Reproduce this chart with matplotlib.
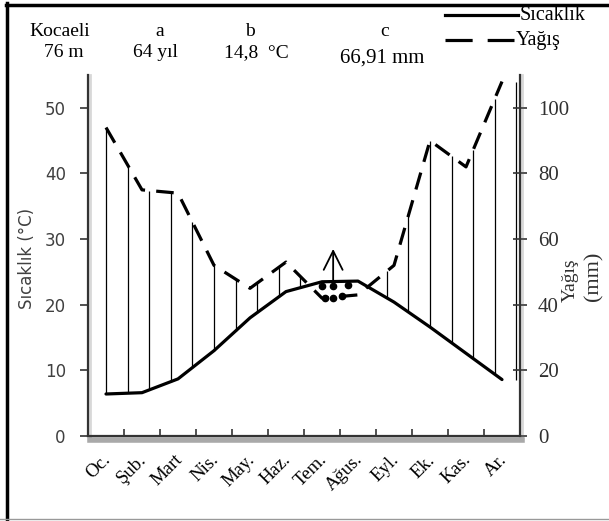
import numpy as np
import matplotlib
matplotlib.use("Agg")
import matplotlib.pyplot as plt
from matplotlib import patheffects as pe
from matplotlib import transforms as mtrans
from matplotlib.lines import Line2D

# climate diagram data (Walter-Lieth style), Kocaeli
months = ["Oc.", "Şub.", "Mart", "Nis.", "May.", "Haz.",
          "Tem.", "Ağus.", "Eyl.", "Ek.", "Kas.", "Ar."]
temp_c = [6.4, 6.6, 8.7, 13.0, 18.0, 22.0, 23.5, 23.6, 20.4, 16.6, 12.6, 8.6]
precip_mm = [94, 75, 74, 52, 45, 53, 42, 43, 52, 90, 82, 108]
header_top = ["Kocaeli", "a", "b", "c"]
header_bottom = ["76 m", "64 yıl", "14,8  °C", "66,91 mm"]
temp_ticks = [0, 10, 20, 30, 40, 50]
precip_ticks = [0, 20, 40, 60, 80, 100]

SERIF = "Liberation Serif"
SANS = "DejaVu Sans"
INK = "#333333"
plt.rcParams["font.family"] = SANS

W, H = 609, 521
fig = plt.figure(figsize=(W / 100, H / 100), dpi=100)
ax = fig.add_axes([88 / W, 1 - 436 / H, 432 / W, 361 / H])
ax2 = ax.twinx()

x = np.arange(len(months))
ax.set_xlim(-0.5, 11.5)
ax.set_ylim(0, 55)
ax2.set_ylim(0, 110)

# curves
ax.plot(x, temp_c, color="black", lw=2.3, solid_capstyle="round", zorder=4)
ax2.plot(x, precip_mm, color="black", lw=2.3, ls=(0, (5.5, 3.5)), zorder=4)

# humid-period hatching (precip in mm / 2 on the temperature scale)
hx = np.linspace(0, 11.4, 20)
ht = np.interp(hx, x, temp_c)
hp = np.interp(hx, x, np.array(precip_mm) / 2.0)
wet = hp > ht
ax.vlines(hx[wet], ht[wet], hp[wet], color="black", lw=0.9, zorder=3)

# dry period marks
ax.plot([6.0, 6.31, 6.72, 6.08, 6.31, 6.56], [22.9, 22.9, 23.0, 21.1, 21.1, 21.4],
        "o", ms=4.5, color="black", ls="none", zorder=5)
ax.annotate("", xy=(6.31, 28.5), xytext=(6.31, 23.6),
            arrowprops=dict(arrowstyle="->", lw=1.3, color="black",
                            mutation_scale=34, shrinkA=0, shrinkB=0))

# spines with a soft drop shadow
for a in (ax, ax2):
    a.spines["top"].set_visible(False)
ax.spines["right"].set_visible(False)
ax2.spines["left"].set_visible(False)
ax2.spines["bottom"].set_visible(False)
for sp in (ax.spines["left"], ax.spines["bottom"], ax2.spines["right"]):
    sp.set_color(INK)
    sp.set_linewidth(1.6)
ax.spines["bottom"].set_path_effects(
    [pe.SimpleLineShadow(offset=(1.5, -3), shadow_color="0.25", alpha=0.45, linewidth=4),
     pe.Normal()])
side_shadow = [pe.SimpleLineShadow(offset=(1.5, 0), shadow_color="0.4", alpha=0.25, linewidth=2),
               pe.Normal()]
ax.spines["left"].set_path_effects(side_shadow)
ax2.spines["right"].set_path_effects(side_shadow)

# left axis
ax.set_yticks(temp_ticks)
ax.tick_params(axis="y", direction="out", length=6, width=1.2, color=INK,
               pad=10, labelsize=12, labelcolor="#404040")

# right axis
ax2.set_yticks(precip_ticks)
ax2.tick_params(axis="y", direction="inout", length=10, width=1.2, color=INK,
                pad=8, labelsize=15, labelcolor="#303030")
for lbl in ax2.get_yticklabels():
    lbl.set_fontfamily(SERIF)

# month axis: ticks at boundaries, labels at centres
ax.set_xticks(np.arange(0.5, 11.0, 1.0))
ax.set_xticklabels([])
ax.tick_params(axis="x", which="major", direction="in", length=5, width=1.2, color=INK)
ax.set_xticks(x, minor=True)
ax.set_xticklabels(months, minor=True, rotation=45, ha="right", va="top",
                   rotation_mode="anchor", fontfamily=SERIF, fontsize=13.5)
ax.tick_params(axis="x", which="minor", length=0, pad=11)
shift = mtrans.ScaledTranslation(-4 / 100, 0, fig.dpi_scale_trans)
for lbl in ax.get_xticklabels(minor=True):
    lbl.set_transform(lbl.get_transform() + shift)

# axis titles
fig.text(27 / W, 1 - 258 / H, "Sıcaklık (°C)", rotation=90, ha="center", va="center",
         fontsize=12, color="#404040")
fig.text(570 / W, 1 - 280 / H, "Yağış", rotation=90, ha="center", va="center",
         fontsize=14, family=SERIF, color="#303030")
fig.text(594 / W, 1 - 276 / H, "(mm)", rotation=90, ha="center", va="center",
         fontsize=16, family=SERIF, color="#303030")

# header
top_x = [60, 160, 250, 385]
bottom_x = [64, 155, 256, 382]
bottom_y = [57, 57, 57, 63]
for tx, s in zip(top_x, header_top):
    fig.text(tx / W, 1 - 36 / H, s, ha="center", va="baseline", family=SERIF, fontsize=14)
for tx, ty, s in zip(bottom_x, bottom_y, header_bottom):
    fig.text(tx / W, 1 - ty / H, s, ha="center", va="baseline", family=SERIF,
             fontsize=15 if "mm" in s else 14)

# legend
fig.add_artist(Line2D([445 / W, 518 / W], [1 - 15 / H] * 2, color="black", lw=2.3,
                      transform=fig.transFigure))
fig.add_artist(Line2D([445 / W, 514 / W], [1 - 40 / H] * 2, color="black", lw=2.3,
                      dashes=(8.5, 4.7), transform=fig.transFigure))
fig.text(520 / W, 1 - 15 / H, "Sıcaklık", ha="left", va="center", family=SERIF, fontsize=14.5)
fig.text(516 / W, 1 - 40 / H, "Yağış", ha="left", va="center", family=SERIF, fontsize=14.5)

# frame around the figure
fig.add_artist(Line2D([6.5 / W] * 2, [0, 1 - 3 / H], color="black", lw=2.5,
                      transform=fig.transFigure))
fig.add_artist(Line2D([5.5 / W, 1], [1 - 4.5 / H] * 2, color="black", lw=2.5,
                      transform=fig.transFigure))
fig.add_artist(Line2D([0, 1], [1 - 519 / H] * 2, color="0.6", lw=1.0,
                      transform=fig.transFigure))

fig.savefig("out.png", dpi=100)
